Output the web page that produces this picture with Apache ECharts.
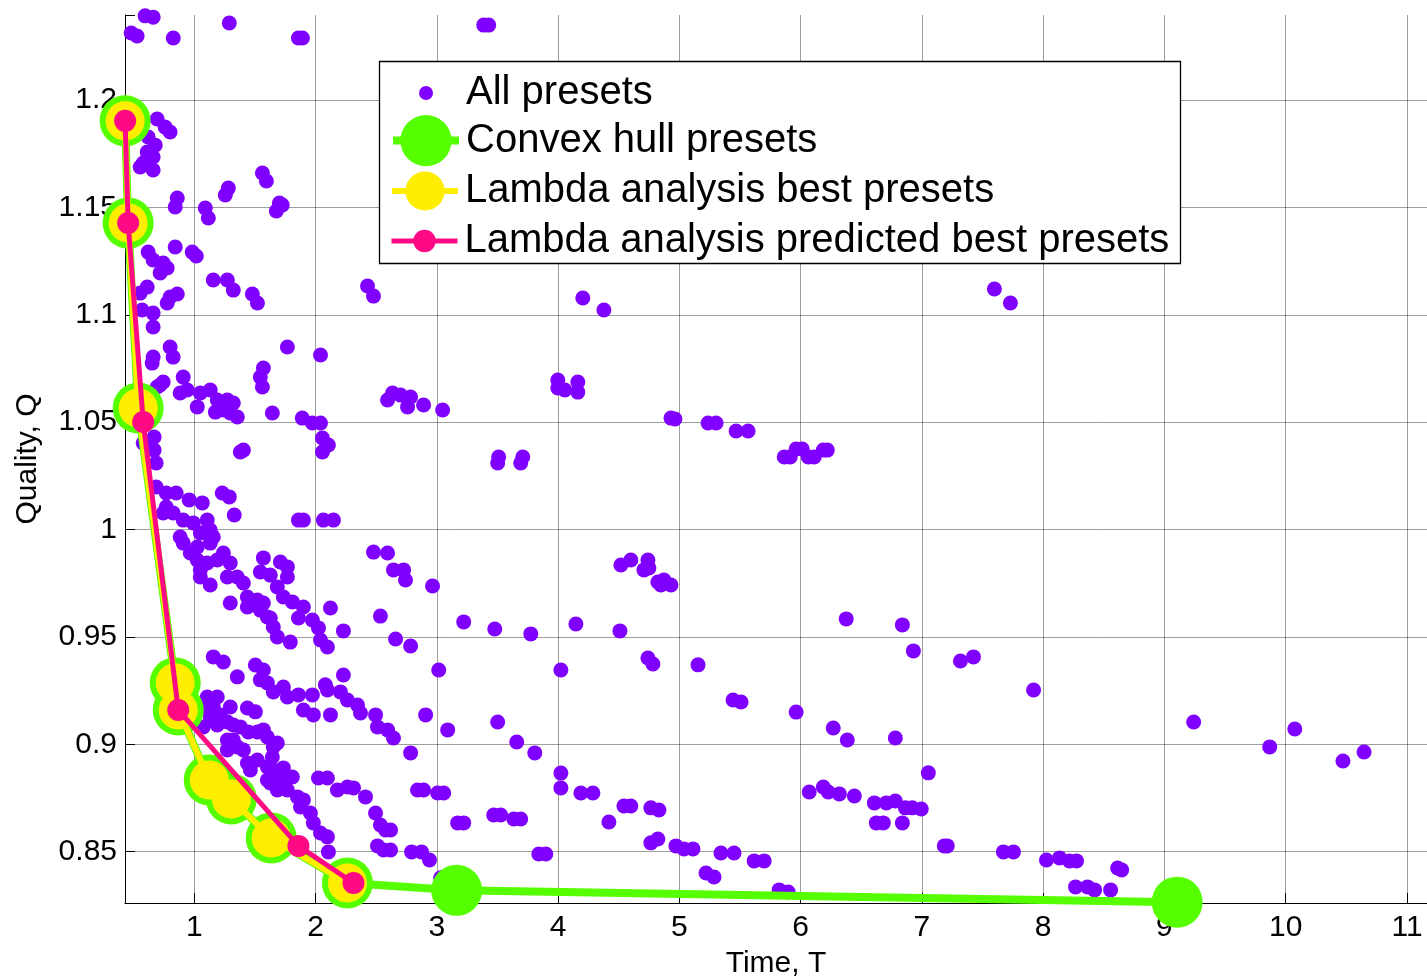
<!DOCTYPE html>
<html>
<head>
<meta charset="utf-8">
<title>Quality vs time of encoder presets</title>
<script src="https://cdn.jsdelivr.net/npm/echarts@6/dist/echarts.min.js"></script>
<style>
  html, body { margin: 0; padding: 0; background: #fff; overflow: hidden; }
  #chart { width: 1427px; height: 977px; }
</style>
</head>
<body>
<div id="chart"></div>
<script>
// Every preset: [time T, quality Q]
const allPresets = [
  [0.480,1.2312],[0.529,1.2298],[0.595,1.2392],[0.661,1.2386],[0.827,1.2289],[1.289,1.2359],[1.859,1.2289],[1.892,1.2289],[3.387,1.2349],[3.428,1.2349],
  [0.694,1.1912],[0.760,1.1874],[0.801,1.1851],[0.620,1.1828],[0.678,1.1790],[0.612,1.1758],[0.661,1.1735],[0.579,1.1707],[0.554,1.1688],[0.661,1.1674],
  [0.860,1.1544],[0.843,1.1502],[1.091,1.1497],[1.116,1.1451],[1.281,1.1590],[1.256,1.1558],[1.562,1.1660],[1.595,1.1623],[1.702,1.1520],[1.677,1.1483],[1.726,1.1511],
  [0.843,1.1316],[0.983,1.1292],[1.017,1.1274],[0.620,1.1292],[0.661,1.1255],[0.744,1.1241],[0.777,1.1218],[0.719,1.1195],[0.612,1.1129],[0.554,1.1101],[0.801,1.1083],[0.860,1.1097],[0.777,1.1055],[0.661,1.1008],[0.661,1.0943],[0.570,1.1022],
  [1.157,1.1162],[1.273,1.1162],[1.322,1.1115],[1.479,1.1097],[1.521,1.1055],[2.429,1.1134],[2.478,1.1087],[4.204,1.1078],[4.378,1.1022],[7.598,1.1120],[7.730,1.1055],
  [0.801,1.0850],[0.826,1.0803],[0.661,1.0803],[0.653,1.0775],[1.768,1.0850],[2.041,1.0813],[1.570,1.0752],[1.545,1.0710],[1.562,1.0664],[0.744,1.0687],[0.694,1.0664],[0.909,1.0710],[0.942,1.0650],[1.050,1.0636],[1.132,1.0650],[0.719,1.0673],[0.884,1.0636],[1.025,1.0571],[1.190,1.0603],[1.240,1.0557],[1.273,1.0603],[1.322,1.0589],[1.355,1.0524],[1.297,1.0543],[1.174,1.0547],
  [1.644,1.0543],[1.891,1.0519],[1.974,1.0496],[2.041,1.0496],[2.057,1.0426],[2.106,1.0394],[2.057,1.0361],
  [2.594,1.0603],[2.635,1.0636],[2.701,1.0626],[2.784,1.0617],[2.759,1.0571],[2.891,1.0580],[3.048,1.0557],
  [3.998,1.0696],[3.998,1.0659],[4.056,1.0650],[4.163,1.0687],[4.163,1.0640],
  [4.931,1.0519],[4.964,1.0515],[5.237,1.0496],[5.303,1.0496],[5.468,1.0459],[5.567,1.0459],
  [5.865,1.0338],[5.914,1.0338],[5.963,1.0375],[6.013,1.0375],[6.063,1.0338],[6.112,1.0338],[6.187,1.0370],[6.220,1.0370],
  [3.510,1.0338],[3.502,1.0310],[3.709,1.0338],[3.692,1.0310],[1.380,1.0361],[1.405,1.0370],
  [0.669,1.0431],[0.669,1.0370],[0.686,1.0310],[0.579,1.0403],[0.686,1.0198],[0.769,1.0170],[0.851,1.0170],[0.958,1.0138],[1.066,1.0124],[1.231,1.0170],[1.289,1.0152],[1.330,1.0068],[0.769,1.0105],[0.744,1.0077],[0.826,1.0077],[0.909,1.0044],[0.992,1.0031],[1.107,1.0044],[1.132,0.9998],[1.050,0.9984],[0.884,0.9965],[0.909,0.9937],[0.967,0.9891],[1.025,0.9919],[1.132,0.9937],[1.157,0.9965],[1.025,0.9858],[1.107,0.9844],[1.050,0.9812],[1.190,0.9858],[1.240,0.9891],[1.297,0.9844],[1.273,0.9779],[1.355,0.9779],[1.405,0.9751],[1.050,0.9779],[1.132,0.9742],[1.297,0.9658],
  [1.859,1.0044],[1.900,1.0044],[2.065,1.0044],[2.148,1.0044],
  [2.478,0.9895],[2.594,0.9891],[2.643,0.9812],[2.726,0.9812],[2.742,0.9765],[2.965,0.9737],
  [1.570,0.9868],[1.710,0.9849],[1.768,0.9826],[1.545,0.9802],[1.627,0.9788],[1.768,0.9779],[1.685,0.9733],[1.438,0.9686],[1.520,0.9672],[1.570,0.9658],[1.545,0.9625],[1.627,0.9588],[1.652,0.9546],[1.685,0.9500],[1.792,0.9476],[1.735,0.9686],[1.809,0.9663],[1.900,0.9639],[2.123,0.9635],[1.859,0.9588],[1.974,0.9579],[2.024,0.9542],[2.230,0.9528],[2.041,0.9486],[2.098,0.9453],[2.535,0.9597],[2.660,0.9490],[2.784,0.9458],[3.222,0.9570],[3.478,0.9537],[3.775,0.9514],[4.147,0.9560],[4.510,0.9528],
  [4.518,0.9835],[4.600,0.9858],[4.741,0.9858],[4.749,0.9821],[4.708,0.9812],[4.823,0.9756],[4.873,0.9765],[4.931,0.9742],[4.848,0.9742],
  [6.376,0.9584],[6.839,0.9556],[6.930,0.9435],[7.318,0.9388],[7.425,0.9407],[7.921,0.9253],
  [1.438,0.9639],[1.603,0.9593],
  [1.157,0.9407],[1.240,0.9383],[1.355,0.9314],[1.504,0.9369],[1.570,0.9346],[1.545,0.9300],[1.603,0.9286],[1.652,0.9244],[1.735,0.9267],[1.768,0.9220],[1.859,0.9230],[1.900,0.9160],[1.982,0.9137],[1.974,0.9230],[2.098,0.9253],[2.205,0.9244],[2.263,0.9206],[2.346,0.9183],[2.371,0.9146],[2.495,0.9137],[2.511,0.9081],[2.594,0.9067],[2.643,0.9029],[2.784,0.8960],[2.908,0.9137],[3.090,0.9067],[3.016,0.9346],[2.230,0.9323],[2.123,0.9137],[2.081,0.9277],
  [3.502,0.9104],[3.659,0.9011],[3.808,0.8960],[4.023,0.9346],[4.741,0.9402],[4.782,0.9374],[5.154,0.9370],
  [5.443,0.9206],[5.509,0.9197],[5.963,0.9150],[6.269,0.9076],[6.385,0.9020],[6.781,0.9029],[7.053,0.8867],
  [9.241,0.9104],[9.868,0.8988],[10.075,0.9071],[10.472,0.8922],[10.646,0.8964],
  [1.107,0.9220],[1.190,0.9220],[1.050,0.9174],[1.157,0.9174],[1.215,0.9137],[1.132,0.9127],[1.074,0.9081],[1.190,0.9090],[1.273,0.9104],[1.322,0.9090],[1.380,0.9081],[1.438,0.9169],[1.504,0.9151],[1.446,0.9057],[1.520,0.9057],[1.570,0.9067],[1.603,0.9034],[1.685,0.9006],[1.652,0.8988],[1.644,0.8941],[1.405,0.8974],[1.355,0.8988],[1.273,0.9020],[1.322,0.9020],[1.273,0.8974],[1.438,0.8913],[1.463,0.8880],[1.520,0.8927],[1.603,0.8894],[1.652,0.8880],[1.735,0.8890],[1.809,0.8848],[1.710,0.8834],[1.627,0.8820],[1.768,0.8787],[1.851,0.8755],[1.900,0.8741],[1.876,0.8708],[1.958,0.8680],[1.982,0.8634],[2.041,0.8587],[2.098,0.8569],[2.106,0.8499],[2.024,0.8843],[2.098,0.8843],[2.180,0.8787],[2.263,0.8801],[2.313,0.8797],[2.412,0.8755],[2.495,0.8680],[2.577,0.8601],[2.619,0.8601],[2.619,0.8508],[2.561,0.8508],[2.792,0.8499],[2.874,0.8499],[2.940,0.8461],[3.064,0.8359],[3.131,0.8368],
  [2.891,0.8787],[2.841,0.8787],[3.007,0.8773],[3.057,0.8773],[3.172,0.8634],[3.222,0.8634],[3.469,0.8671],[3.527,0.8671],[3.635,0.8652],[3.692,0.8652],
  [4.188,0.8773],[4.287,0.8773],[4.023,0.8866],[4.023,0.8797],
  [4.419,0.8638],[4.543,0.8713],[4.600,0.8713],[4.765,0.8704],[4.832,0.8694],
  [6.071,0.8778],[6.187,0.8801],[6.228,0.8778],[6.319,0.8769],[6.443,0.8759],[6.608,0.8727],[6.707,0.8727],[6.781,0.8736],[6.864,0.8704],[6.921,0.8704],[6.995,0.8699],[6.624,0.8634],[6.682,0.8634],[6.839,0.8634],
  [3.841,0.8489],[3.899,0.8489],[4.765,0.8541],[4.823,0.8559],[4.972,0.8527],[5.038,0.8513],[5.112,0.8513],[5.343,0.8494],[5.451,0.8494],[5.617,0.8457],[5.699,0.8457],[5.220,0.8401],[5.286,0.8382],[5.823,0.8322],[5.898,0.8312],[3.032,0.8378],
  [7.185,0.8527],[7.209,0.8527],[7.672,0.8499],[7.755,0.8499],[8.027,0.8461],[8.135,0.8471],[8.217,0.8457],[8.275,0.8457],[8.614,0.8424],[8.647,0.8415],[8.267,0.8336],[8.366,0.8336],[8.424,0.8322],[8.556,0.8322],
  [1.297,0.9174],[1.603,0.8834],[1.685,0.8787],[2.535,0.8624],[2.511,0.8527]
];

// Lower convex hull of the cloud
const hullTime    = [0.430, 0.455, 0.538, 0.843, 0.868, 1.124, 1.306, 1.635, 2.263, 3.164, 9.105];
const hullQuality = [1.1903, 1.1427, 1.0566, 0.9286, 0.9160, 0.8834, 0.8745, 0.8564, 0.8354, 0.8320, 0.8265];

// Presets picked by the lambda analysis
const bestTime    = [0.430, 0.455, 0.538, 0.843, 0.868, 1.124, 1.306, 1.635, 2.263];
const bestQuality = [1.1903, 1.1427, 1.0566, 0.9286, 0.9160, 0.8834, 0.8745, 0.8564, 0.8354];

// Presets predicted by the lambda analysis
const predTime    = [0.430, 0.455, 0.579, 0.868, 1.859, 2.313];
const predQuality = [1.1903, 1.1427, 1.0501, 0.9160, 0.8527, 0.8354];

// Axis ranges and tick positions
const timeRange    = [0.429, 11.165];
const qualityRange = [0.8261, 1.2396];
const timeTicks    = [1, 2, 3, 4, 5, 6, 7, 8, 9, 10, 11];
const qualityTicks = [0.85, 0.9, 0.95, 1, 1.05, 1.1, 1.15, 1.2];

const names = ['All presets', 'Convex hull presets', 'Lambda analysis best presets', 'Lambda analysis predicted best presets'];

const PURPLE = '#8000ff', GREEN = '#55ff00', YELLOW = '#ffee00', PINK = '#ff0a85';
const FONT = '"Liberation Sans", Arial, Helvetica, sans-serif';

const zip = (a, b) => a.map((v, i) => [v, b[i]]);

const chart = echarts.init(document.getElementById('chart'), null, { renderer: 'canvas' });

// One legend component per row, so each row keeps its own marker size
function legendRow(name, left, top, itemHeight, lineWidth) {
  return {
    data: [name],
    left: left,
    top: top,
    orient: 'vertical',
    padding: 0,
    itemWidth: 66,
    itemHeight: itemHeight,
    selectedMode: false,
    z: 20,
    lineStyle: lineWidth ? { width: lineWidth } : undefined,
    textStyle: { fontFamily: FONT, fontSize: 40, color: '#000', padding: [0, 0, 0, 2] }
  };
}

const option = {
  animation: false,
  backgroundColor: '#fff',
  textStyle: { fontFamily: FONT },
  grid: { left: 125, right: 0, top: 15, bottom: 74, containLabel: false, outerBoundsMode: 'none' },
  xAxis: {
    type: 'value',
    min: timeRange[0],
    max: timeRange[1],
    minInterval: 1,
    maxInterval: 1,
    name: 'Time, T',
    nameLocation: 'middle',
    nameGap: 46,
    nameTextStyle: { fontFamily: FONT, fontSize: 30, color: '#000' },
    axisLine: { show: true, onZero: false, lineStyle: { color: '#000', width: 1 } },
    axisTick: { show: true, inside: true, length: 10, lineStyle: { color: '#000', width: 1 } },
    axisLabel: { fontFamily: FONT, fontSize: 30, color: '#000', margin: 10, customValues: timeTicks },
    splitLine: { show: true, showMinLine: false, showMaxLine: false, lineStyle: { color: 'rgba(0,0,0,0.38)', width: 1 } }
  },
  yAxis: {
    type: 'value',
    min: qualityRange[0],
    max: qualityRange[1],
    minInterval: 0.05,
    maxInterval: 0.05,
    name: 'Quality, Q',
    nameLocation: 'middle',
    nameGap: 82,
    nameTextStyle: { fontFamily: FONT, fontSize: 30, color: '#000' },
    axisLine: { show: true, onZero: false, lineStyle: { color: '#000', width: 1 } },
    axisTick: { show: true, inside: true, length: 10, lineStyle: { color: '#000', width: 1 } },
    axisLabel: { fontFamily: FONT, fontSize: 30, color: '#000', margin: 8, customValues: qualityTicks },
    splitLine: { show: true, showMinLine: false, showMaxLine: false, lineStyle: { color: 'rgba(0,0,0,0.38)', width: 1 } }
  },
  legend: [
    legendRow(names[0], 419, 73, 14, 0),
    legendRow(names[1], 389, 115, 64, 8),
    legendRow(names[2], 389, 171, 49, 6),
    legendRow(names[3], 389, 221, 28, 5)
  ],
  graphic: [{
    type: 'rect',
    z: 15,
    shape: { x: 379.5, y: 61.5, width: 801, height: 202 },
    style: { fill: '#fff', stroke: '#000', lineWidth: 1.3 }
  }],
  series: [
    {
      name: names[0],
      type: 'scatter',
      clip: false,
      symbol: 'circle',
      symbolSize: 15,
      itemStyle: { color: PURPLE, opacity: 1 },
      data: allPresets,
      z: 2
    },
    {
      name: names[1],
      type: 'line',
      clip: false,
      symbol: 'circle',
      symbolSize: 51,
      showAllSymbol: true,
      lineStyle: { color: GREEN, width: 8 },
      itemStyle: { color: GREEN, borderWidth: 0 },
      data: zip(hullTime, hullQuality),
      z: 3
    },
    {
      name: names[2],
      type: 'line',
      clip: false,
      symbol: 'circle',
      symbolSize: 39,
      showAllSymbol: true,
      lineStyle: { color: YELLOW, width: 6 },
      itemStyle: { color: YELLOW, borderWidth: 0 },
      data: zip(bestTime, bestQuality),
      z: 4
    },
    {
      name: names[3],
      type: 'line',
      clip: false,
      symbol: 'circle',
      symbolSize: 22,
      showAllSymbol: true,
      lineStyle: { color: PINK, width: 5 },
      itemStyle: { color: PINK, borderWidth: 0 },
      data: zip(predTime, predQuality),
      z: 5
    }
  ]
};

chart.setOption(option);
</script>
</body>
</html>
